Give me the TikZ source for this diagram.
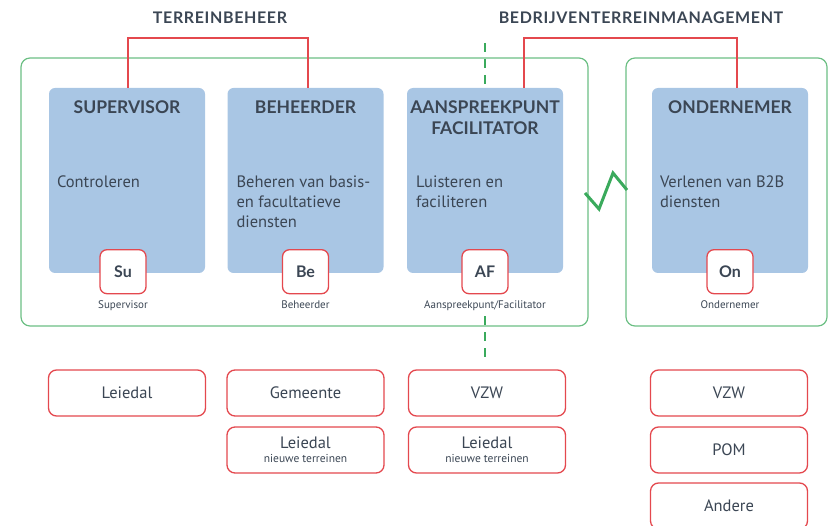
\documentclass[tikz,border=0pt]{standalone}
\usepackage{fontspec}
\setmainfont{PT Sans}
\newfontfamily\kopfont{Lato}
\newfontfamily\koplangfont[LetterSpace=4]{Lato}
\usetikzlibrary{positioning}

\definecolor{rolblauw}{HTML}{A9C6E4}
\definecolor{kadergroen}{HTML}{6CBF84}
\definecolor{lijngroen}{HTML}{3AAA5C}
\definecolor{rood}{HTML}{E4484E}
\definecolor{tekst}{HTML}{3B4654}

\tikzset{
  rol/.style={fill=rolblauw, rounded corners=6pt, minimum width=156pt, minimum height=185pt, inner sep=0pt},
  roltitel/.style={anchor=north, align=center, inner sep=0pt, text=tekst, font=\kopfont\bfseries\fontsize{17.5}{21}\selectfont},
  omschrijving/.style={anchor=north west, align=left, inner sep=0pt, text=tekst, font=\fontsize{16.5}{20}\selectfont},
  badge/.style={draw=rood, line width=1.3pt, fill=white, rounded corners=7pt, minimum width=46pt, minimum height=44pt, inner sep=0pt, text=tekst, font=\kopfont\bfseries\fontsize{16}{16}\selectfont},
  klein/.style={inner sep=0pt, text=tekst, font=\fontsize{11}{12}\selectfont},
  partner/.style={draw=rood, line width=1.3pt, fill=white, rounded corners=8pt, minimum width=157pt, minimum height=46pt, inner sep=0pt, align=center, text=tekst, font=\fontsize{16.5}{17}\selectfont},
  kop/.style={text=tekst, font=\koplangfont\bfseries\fontsize{16}{16}\selectfont},
  kader/.style={draw=kadergroen, line width=1.2pt, rounded corners=9pt},
  haak/.style={draw=rood, line width=1.5pt},
  grens/.style={draw=lijngroen, line width=2.6pt, dash pattern=on 9pt off 7pt},
}

\begin{document}
\begin{tikzpicture}[x=1pt,y=-1pt]
    \useasboundingbox (0,0) rectangle (829,526);

    % Kaders
    \draw[kader] (21,58) rectangle (588,326);
    \draw[kader] (626,58) rectangle (827,326);

    % Rollen
    \node[rol] (sup) at (127,180.5) {};
    \node[rol] (beh) at (305.5,180.5) {};
    \node[rol] (af)  at (485,180.5) {};
    \node[rol] (ond) at (730,180.5) {};

    \node[roltitel] at ([yshift=-13pt]sup.north) {SUPERVISOR};
    \node[roltitel] at ([yshift=-13pt]beh.north) {BEHEERDER};
    \node[roltitel] at ([yshift=-13pt]af.north) {AANSPREEKPUNT\\FACILITATOR};
    \node[roltitel] at ([yshift=-13pt]ond.north) {ONDERNEMER};

    \node[omschrijving] at ([shift={(8,88)}]sup.north west) {Controleren};
    \node[omschrijving] at ([shift={(9,88)}]beh.north west) {Beheren van basis-\\en facultatieve\\diensten};
    \node[omschrijving] at ([shift={(9,88)}]af.north west) {Luisteren en\\faciliteren};
    \node[omschrijving] at ([shift={(8,88)}]ond.north west) {Verlenen van B2B\\diensten};

    % Badges
    \node[badge] (su) at ([xshift=-4pt,yshift=1.5pt]sup.south) {Su};
    \node[badge] (be) at ([yshift=1.5pt]beh.south) {Be};
    \node[badge] (afb) at ([yshift=1.5pt]af.south) {AF};
    \node[badge] (on) at ([yshift=1.5pt]ond.south) {On};

    \node[klein, below=6pt of su] {Supervisor};
    \node[klein, below=6pt of be] {Beheerder};
    \node[klein, below=6pt of afb] {Aanspreekpunt/Facilitator};
    \node[klein, below=6pt of on] {Ondernemer};

    % Koppen
    \node[kop] (terrein) at (220,18) {TERREINBEHEER};
    \node[kop] (bedrijf) at (641,18) {BEDRIJVENTERREINMANAGEMENT};

    \draw[haak] ([xshift=1pt]sup.north) -- ++(0,-50) -| ([xshift=2.5pt]beh.north);
    \draw[haak] ([xshift=39pt]af.north) -- ++(0,-50) -| ([xshift=7pt]ond.north);

    % Grens
    \coordinate (g1) at (485,43);
    \coordinate (g2) at (485,316);
    \draw[grens] (g1) -- (af.north);
    \draw[grens] (g2) -- ++(0,45);
    \draw[lijngroen, line width=3pt, line join=miter] (585,193) -- (599,209) -- (613,173) -- (627,190);

    % Partners
    \node[partner] (p1) at (127,393) {Leiedal};
    \node[partner] (p2) at (305.5,393) {Gemeente};
    \node[partner] (p3) at (305.5,450) {Leiedal\\[-3pt]{\fontsize{11.5}{12}\selectfont nieuwe terreinen}};
    \node[partner] (p4) at (487,393) {VZW};
    \node[partner] (p5) at (487,450) {Leiedal\\[-3pt]{\fontsize{11.5}{12}\selectfont nieuwe terreinen}};
    \node[partner] (p6) at (729,393) {VZW};
    \node[partner] (p7) at (729,450) {POM};
    \node[partner] (p8) at (729,506) {Andere};
\end{tikzpicture}
\end{document}
